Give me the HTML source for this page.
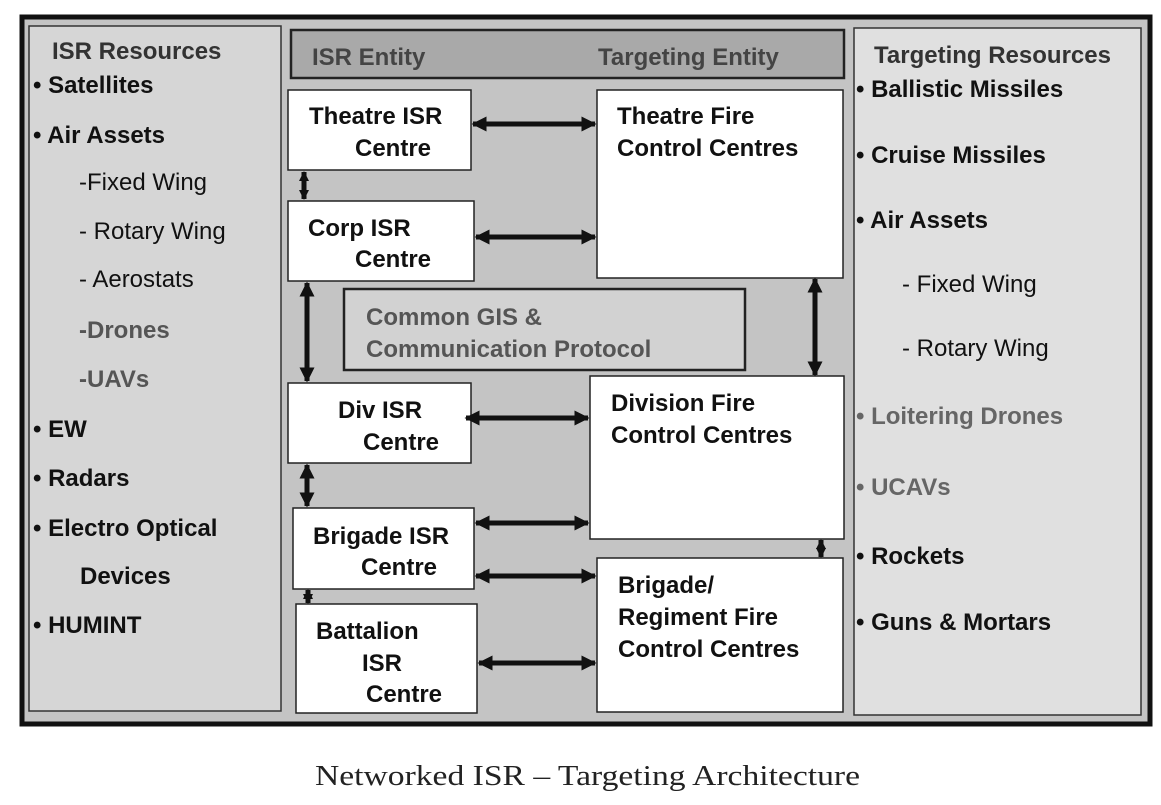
<!DOCTYPE html>
<html><head><meta charset="utf-8"><style>
html,body{margin:0;padding:0;background:#fff;}
svg{display:block}
text{font-family:"Liberation Sans",sans-serif;font-weight:bold;font-size:24px;fill:#111;}
.r{font-weight:normal}
</style></head><body>
<svg width="1161" height="805" viewBox="0 0 1161 805" xmlns="http://www.w3.org/2000/svg">
<defs>
<marker id="a" viewBox="0 0 10 10" refX="9" refY="5" markerWidth="3" markerHeight="3" orient="auto-start-reverse"><path d="M0,0 L10,5 L0,10 z" fill="#111"/></marker>
<marker id="b" viewBox="0 0 10 10" refX="9" refY="5" markerWidth="2" markerHeight="2.4" orient="auto-start-reverse"><path d="M0,0 L10,5 L0,10 z" fill="#111"/></marker>
</defs>
<rect x="22" y="17" width="1128" height="707" fill="#c4c4c4" stroke="#111" stroke-width="5"/>
<rect x="29" y="26" width="252" height="685" fill="#d6d6d6" stroke="#333" stroke-width="1.5"/>
<rect x="854" y="28" width="287" height="687" fill="#e0e0e0" stroke="#333" stroke-width="1.5"/>
<rect x="291" y="30" width="553" height="48" fill="#a9a9a9" stroke="#222" stroke-width="2.5"/>
<text x="312" y="65" style="fill:#444">ISR Entity</text>
<text x="598" y="65" style="fill:#444">Targeting Entity</text>

<g fill="#fff" stroke="#222" stroke-width="1.5">
<rect x="288" y="90" width="183" height="80"/>
<rect x="288" y="201" width="186" height="80"/>
<rect x="597" y="90" width="246" height="188"/>
<rect x="344" y="289" width="401" height="81" fill="#d2d2d2" stroke-width="2.5"/>
<rect x="288" y="383" width="183" height="80"/>
<rect x="590" y="376" width="254" height="163"/>
<rect x="293" y="508" width="181" height="81"/>
<rect x="597" y="558" width="246" height="154"/>
<rect x="296" y="604" width="181" height="109"/>
</g>

<g stroke="#111" stroke-width="5" marker-start="url(#a)" marker-end="url(#a)">
<line x1="473" y1="124" x2="595" y2="124"/>
<line x1="476" y1="237" x2="595" y2="237"/>
<line x1="466" y1="418" x2="588" y2="418"/>
<line x1="476" y1="523" x2="588" y2="523"/>
<line x1="476" y1="576" x2="595" y2="576"/>
<line x1="479" y1="663" x2="595" y2="663"/>
<line x1="307" y1="283" x2="307" y2="381"/>
<line x1="307" y1="465" x2="307" y2="506"/>
<line x1="815" y1="279" x2="815" y2="375"/>
</g>
<g stroke="#111" stroke-width="5" marker-start="url(#b)" marker-end="url(#b)">
<line x1="304" y1="172" x2="304" y2="199"/>
<line x1="308" y1="590" x2="308" y2="603"/>
<line x1="821" y1="540" x2="821" y2="557"/>
</g>

<text x="309" y="124">Theatre ISR</text><text x="355" y="156">Centre</text>
<text x="308" y="236">Corp ISR</text><text x="355" y="267">Centre</text>
<text x="617" y="124">Theatre Fire</text><text x="617" y="156">Control Centres</text>
<text x="366" y="325" style="fill:#555">Common GIS &amp;</text><text x="366" y="357" style="fill:#555">Communication Protocol</text>
<text x="338" y="418">Div ISR</text><text x="363" y="450">Centre</text>
<text x="611" y="411">Division Fire</text><text x="611" y="443">Control Centres</text>
<text x="313" y="544">Brigade ISR</text><text x="361" y="575">Centre</text>
<text x="618" y="593">Brigade/</text><text x="618" y="625">Regiment Fire</text><text x="618" y="657">Control Centres</text>
<text x="316" y="639">Battalion</text><text x="362" y="671">ISR</text><text x="366" y="702">Centre</text>

<text x="52" y="59" style="fill:#333">ISR Resources</text>
<text x="33" y="93">• Satellites</text>
<text x="33" y="143">• Air Assets</text>
<text x="79" y="190" class="r">-Fixed Wing</text>
<text x="79" y="239" class="r">- Rotary Wing</text>
<text x="79" y="287" class="r">- Aerostats</text>
<text x="79" y="338" style="fill:#555">-Drones</text>
<text x="79" y="387" style="fill:#555">-UAVs</text>
<text x="33" y="437">• EW</text>
<text x="33" y="486">• Radars</text>
<text x="33" y="536">• Electro Optical</text>
<text x="80" y="584">Devices</text>
<text x="33" y="633">• HUMINT</text>

<text x="874" y="63" style="fill:#333">Targeting Resources</text>
<text x="856" y="97">• Ballistic Missiles</text>
<text x="856" y="163">• Cruise Missiles</text>
<text x="856" y="228">• Air Assets</text>
<text x="902" y="292" class="r">- Fixed Wing</text>
<text x="902" y="356" class="r">-  Rotary Wing</text>
<text x="856" y="424" style="fill:#666">• Loitering Drones</text>
<text x="856" y="495" style="fill:#666">• UCAVs</text>
<text x="856" y="564">• Rockets</text>
<text x="856" y="630">• Guns &amp; Mortars</text>

<text x="315" y="785" textLength="545" lengthAdjust="spacingAndGlyphs" style="font-family:'Liberation Serif',serif;font-weight:normal;font-size:28px;fill:#222">Networked ISR – Targeting Architecture</text>
</svg>
</body></html>
